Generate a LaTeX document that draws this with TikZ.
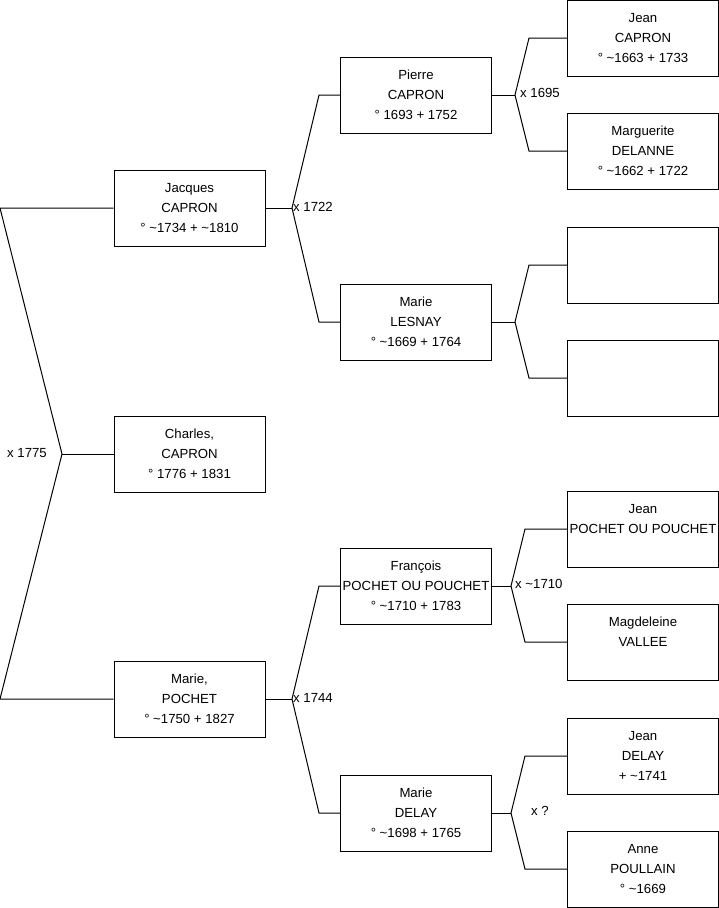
\documentclass[tikz,border=0pt]{standalone}
\usepackage{fontspec}
\setmainfont{Liberation Sans}
\usetikzlibrary{positioning}
\tikzset{
  person/.style={draw, line width=1pt, minimum width=151pt, minimum height=76pt,
    inner sep=0pt, align=center, font=\fontsize{13.2}{20}\selectfont},
  link/.style={line width=1pt},
  wed/.style={anchor=west, inner sep=0pt, font=\fontsize{13.2}{16}\selectfont},
}

\begin{document}
\begin{tikzpicture}[x=1pt, y=-1pt]
\useasboundingbox (0,0) rectangle (719,908);
% generation 1
\node[person] (charles) at (189.5,454) {Charles,\\CAPRON\\° 1776 + 1831};
% parents
\node[person] (jacques) at (189.5,208) {Jacques\\CAPRON\\° \textasciitilde1734 + \textasciitilde1810};
\node[person] (marieP) at (189.5,699) {Marie,\\POCHET\\° \textasciitilde1750 + 1827};
% grandparents
\node[person] (pierre) at (416,95) {Pierre\\CAPRON\\° 1693 + 1752};
\node[person] (lesnay) at (416,322) {Marie\\LESNAY\\° \textasciitilde1669 + 1764};
\node[person] (francois) at (416,586) {François\\POCHET OU POUCHET\\° \textasciitilde1710 + 1783};
\node[person] (delay) at (416,813) {Marie\\DELAY\\° \textasciitilde1698 + 1765};
% great-grandparents
\node[person] (jeanC) at (643,38) {Jean\\CAPRON\\° \textasciitilde1663 + 1733};
\node[person] (delanne) at (643,151) {Marguerite\\DELANNE\\° \textasciitilde1662 + 1722};
\node[person] (blankA) at (643,265) {};
\node[person] (blankB) at (643,378) {};
\node[person] (jeanP) at (643,529) {Jean\\POCHET OU POUCHET\\\mbox{}};
\node[person] (vallee) at (643,642) {Magdeleine\\VALLEE\\\mbox{}};
\node[person] (jeanD) at (643,756) {Jean\\DELAY\\+ \textasciitilde1741};
\node[person] (poullain) at (643,869) {Anne\\POULLAIN\\° \textasciitilde1669};

% forks
\coordinate (f0) at (62,454);
\coordinate (f0t) at (0,208);
\coordinate (f0b) at (0,699);
\coordinate (f1) at (292,208);
\coordinate (f1t) at (319,95);
\coordinate (f1b) at (319,322);
\coordinate (f2) at (292,699);
\coordinate (f2t) at (319,586);
\coordinate (f2b) at (319,813);
\coordinate (f3) at (515,95);
\coordinate (f3t) at (529,38);
\coordinate (f3b) at (529,151);
\coordinate (f4) at (515,322);
\coordinate (f4t) at (529,265);
\coordinate (f4b) at (529,378);
\coordinate (f5) at (511,586);
\coordinate (f5t) at (525,529);
\coordinate (f5b) at (525,642);
\coordinate (f6) at (511,813);
\coordinate (f6t) at (525,756);
\coordinate (f6b) at (525,869);

\draw[link] (charles.west) -- (f0);
\draw[link] (jacques.west) -- (f0t) -- (f0) -- (f0b) -- (marieP.west);
\draw[link] (jacques.east) -- (f1);
\draw[link] (pierre.west) -- (f1t) -- (f1) -- (f1b) -- (lesnay.west);
\draw[link] (marieP.east) -- (f2);
\draw[link] (francois.west) -- (f2t) -- (f2) -- (f2b) -- (delay.west);
\draw[link] (pierre.east) -- (f3);
\draw[link] (jeanC.west) -- (f3t) -- (f3) -- (f3b) -- (delanne.west);
\draw[link] (lesnay.east) -- (f4);
\draw[link] (blankA.west) -- (f4t) -- (f4) -- (f4b) -- (blankB.west);
\draw[link] (francois.east) -- (f5);
\draw[link] (jeanP.west) -- (f5t) -- (f5) -- (f5b) -- (vallee.west);
\draw[link] (delay.east) -- (f6);
\draw[link] (jeanD.west) -- (f6t) -- (f6) -- (f6b) -- (poullain.west);

% marriages
\node[wed] (m0) at (7,453) {x 1775};
\node[wed] (m1) at (293,207) {x 1722};
\node[wed] (m2) at (293,698) {x 1744};
\node[wed] (m3) at (520,93) {x 1695};
\node[wed] (m5) at (515,584) {x \textasciitilde1710};
\node[wed] (m6) at (531,811) {x ?};
\end{tikzpicture}
\end{document}
